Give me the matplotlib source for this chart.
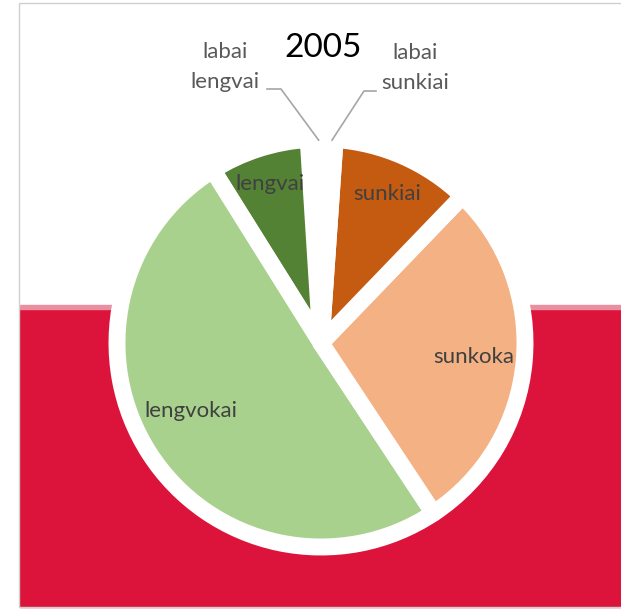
import numpy as np
import matplotlib
matplotlib.use("Agg")
import matplotlib.pyplot as plt
from matplotlib.patches import Rectangle

plt.rcParams['font.family'] = ['Lato', 'DejaVu Sans']

# data
categories = ["labai lengvai", "lengvai", "lengvokai", "sunkoka", "sunkiai", "labai sunkiai"]
shares = [1.0, 7.9, 50.4, 28.5, 11.1, 1.1]
colors = ["#FFFFFF", "#548235", "#A9D18E", "#F4B183", "#C55A11", "#FFFFFF"]
title = "2005"

W, H = 621, 609
cx, cy, R = 321, 343, 204  # pie centre / radius in pixels

fig = plt.figure(figsize=(W / 100, H / 100), dpi=100)
ax = fig.add_axes([0, 0, 1, 1])

def px(x, y):
    return (x - cx) / R, (cy - y) / R

# background: white top, crimson bottom, thin grey frame
ax.add_patch(Rectangle(px(20, 607), (W - 20) / R, (607 - 309) / R, color="#DC143C", zorder=0))
ax.add_patch(Rectangle(px(20, 309), (W - 20) / R, 4 / R, color="#E8909F", zorder=0))
ax.add_patch(Rectangle(px(19, 607), (W + 10) / R, 604 / R, fill=False,
                       edgecolor="#D0D0D0", lw=1, zorder=1))

# thick white borders give the gaps and the white ring
wedges, _ = ax.pie(shares, colors=colors, startangle=90, counterclock=True, radius=1.0,
                   wedgeprops=dict(edgecolor="white", linewidth=12.2, joinstyle="round"))
for w in wedges:
    w.set_zorder(2)

ax.set_aspect("auto")
ax.set_xlim(-cx / R, (W - cx) / R)
ax.set_ylim(-(H - cy) / R, cy / R)
ax.axis("off")

# inside labels
inside = {1: 0.82, 2: 0.72, 3: 0.75, 4: 0.80}
for i, d in inside.items():
    w = wedges[i]
    ang = np.deg2rad((w.theta1 + w.theta2) / 2)
    if i == 2:
        ang -= np.deg2rad(5)
    ax.text(d * np.cos(ang), d * np.sin(ang), categories[i], ha="center", va="center",
            fontsize=16, color="#404040", zorder=3)

# outside labels with leader lines
for i, lx, ly, ex, ex2 in [(0, 225, 67, 281, 267), (5, 415, 68, 364, 376)]:
    w = wedges[i]
    ang = np.deg2rad((w.theta1 + w.theta2) / 2)
    tip = (0.995 * np.cos(ang) + 4 / R, 0.995 * np.sin(ang))
    words = categories[i].split(" ")
    ax.text(*px(lx, ly), "\n".join(words), ha="center", va="center", fontsize=16,
            color="#595959", linespacing=1.6, zorder=3)
    yl = 89 if i == 0 else 91
    elbow = px(ex, yl)
    start = px(ex2, yl)
    ax.plot([start[0], elbow[0], tip[0]], [start[1], elbow[1], tip[1]],
            color="#A6A6A6", lw=1.2, zorder=3)

ax.text(*px(323, 48), title, ha="center", va="center", fontsize=24, color="black", zorder=3)

fig.savefig("out.png", dpi=100)
